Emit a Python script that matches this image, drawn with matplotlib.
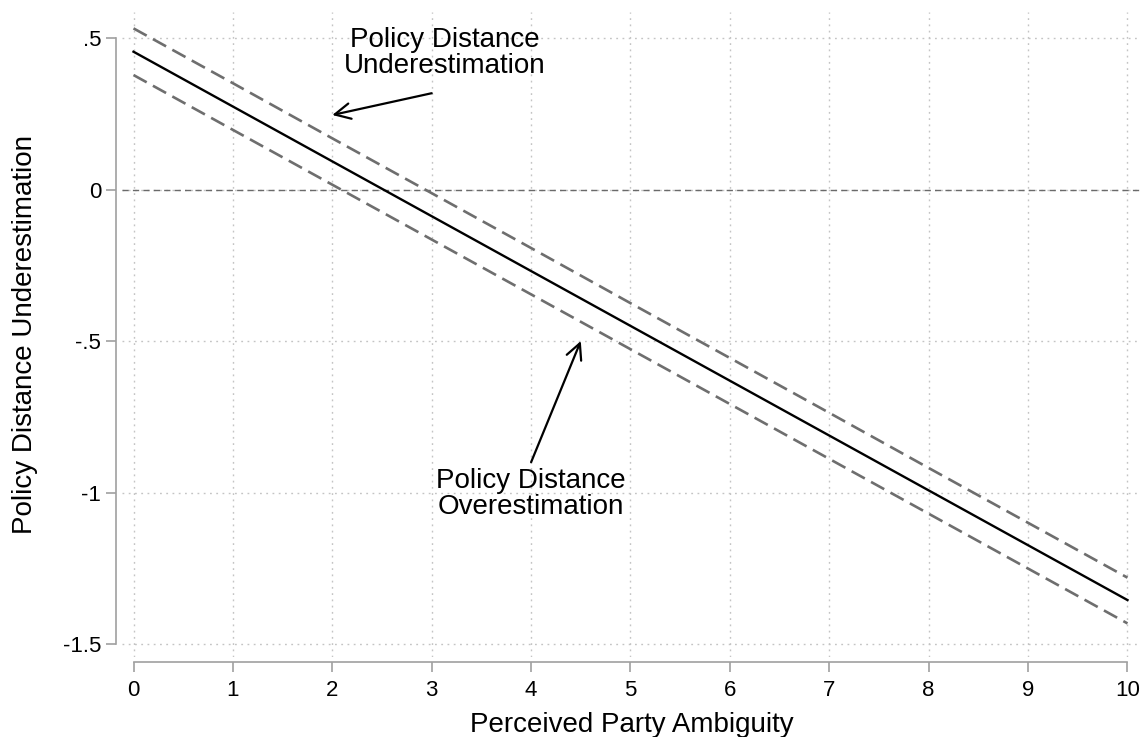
import numpy as np
import matplotlib
matplotlib.use("Agg")
import matplotlib.pyplot as plt

plt.rcParams['font.family'] = ['Liberation Sans', 'DejaVu Sans']

# ====================== 数据 ======================
ambiguity = [0, 1, 2, 3, 4, 5, 6, 7, 8, 9, 10]
# 预测值（实线）
fit = [0.455, 0.274, 0.093, -0.088, -0.269, -0.450, -0.631, -0.812, -0.993, -1.174, -1.355]
# 置信区间（虚线）
ci_upper = [0.532, 0.351, 0.169, -0.012, -0.193, -0.375, -0.556, -0.737, -0.919, -1.100, -1.281]
ci_lower = [0.378, 0.197, 0.016, -0.165, -0.346, -0.527, -0.708, -0.889, -1.070, -1.251, -1.432]

x_ticks = [0, 1, 2, 3, 4, 5, 6, 7, 8, 9, 10]
y_ticks = [-1.5, -1.0, -0.5, 0.0, 0.5]
y_tick_labels = ["-1.5", "-1", "-.5", "0", ".5"]

# ====================== 画图 ======================
fig = plt.figure(figsize=(11.41, 7.37), dpi=100)
ax = fig.add_axes([0.1069, 0.1085, 0.8931, 0.8752])

grid_kw = dict(color="#c4c4c4", lw=1.0, linestyle=(0, (1.3, 3.2)))
ax.grid(True, **grid_kw)
ax.set_axisbelow(True)

ax.axhline(0, color="#6a6a6a", lw=1.0, linestyle=(0, (4.5, 3.0)), zorder=2)

ci_style = dict(color="#6e6e6e", lw=1.9, linestyle=(0, (5.7, 2.7)), zorder=3)
ax.plot(ambiguity, ci_upper, **ci_style)
ax.plot(ambiguity, ci_lower, **ci_style)
ax.plot(ambiguity, fit, color="black", lw=1.7, zorder=4)

ax.set_xlim(-0.116, 10.136)
ax.set_ylim(-1.543, 0.586)

ax.set_xticks(x_ticks)
ax.set_yticks(y_ticks)
ax.set_yticklabels(y_tick_labels)

for s in ["top", "right"]:
    ax.spines[s].set_visible(False)
ax.spines["left"].set_position(("outward", 4.3))
ax.spines["bottom"].set_position(("outward", 3.6))
ax.spines["left"].set_bounds(-1.5, 0.5)
ax.spines["bottom"].set_bounds(0, 10)
for s in ["left", "bottom"]:
    ax.spines[s].set_color("#a0a0a0")
    ax.spines[s].set_linewidth(1.2)

ax.tick_params(axis="both", colors="#a0a0a0", width=1.2, length=7.2, labelsize=16,
               labelcolor="black")
ax.tick_params(axis="x", pad=6)
ax.tick_params(axis="y", pad=3.5)

ax.set_xlabel("Perceived Party Ambiguity", fontsize=20, labelpad=8)
ax.set_ylabel("Policy Distance Underestimation", fontsize=20, labelpad=17.5)

# 注释
arrow_kw = dict(arrowstyle="->", color="black", lw=1.6, mutation_scale=28,
                shrinkA=0, shrinkB=0)
ax.annotate("", xy=(2.0, 0.246), xytext=(3.0, 0.318), arrowprops=arrow_kw)
ax.text(3.13, 0.45, "Policy Distance\nUnderestimation", ha="center", va="center",
        fontsize=20, linespacing=1.0)

ax.annotate("", xy=(4.5, -0.5), xytext=(4.0, -0.9), arrowprops=arrow_kw)
ax.text(4.0, -1.005, "Policy Distance\nOverestimation", ha="center", va="center",
        fontsize=20, linespacing=1.0)

plt.savefig("out.png", dpi=100)
plt.close()
